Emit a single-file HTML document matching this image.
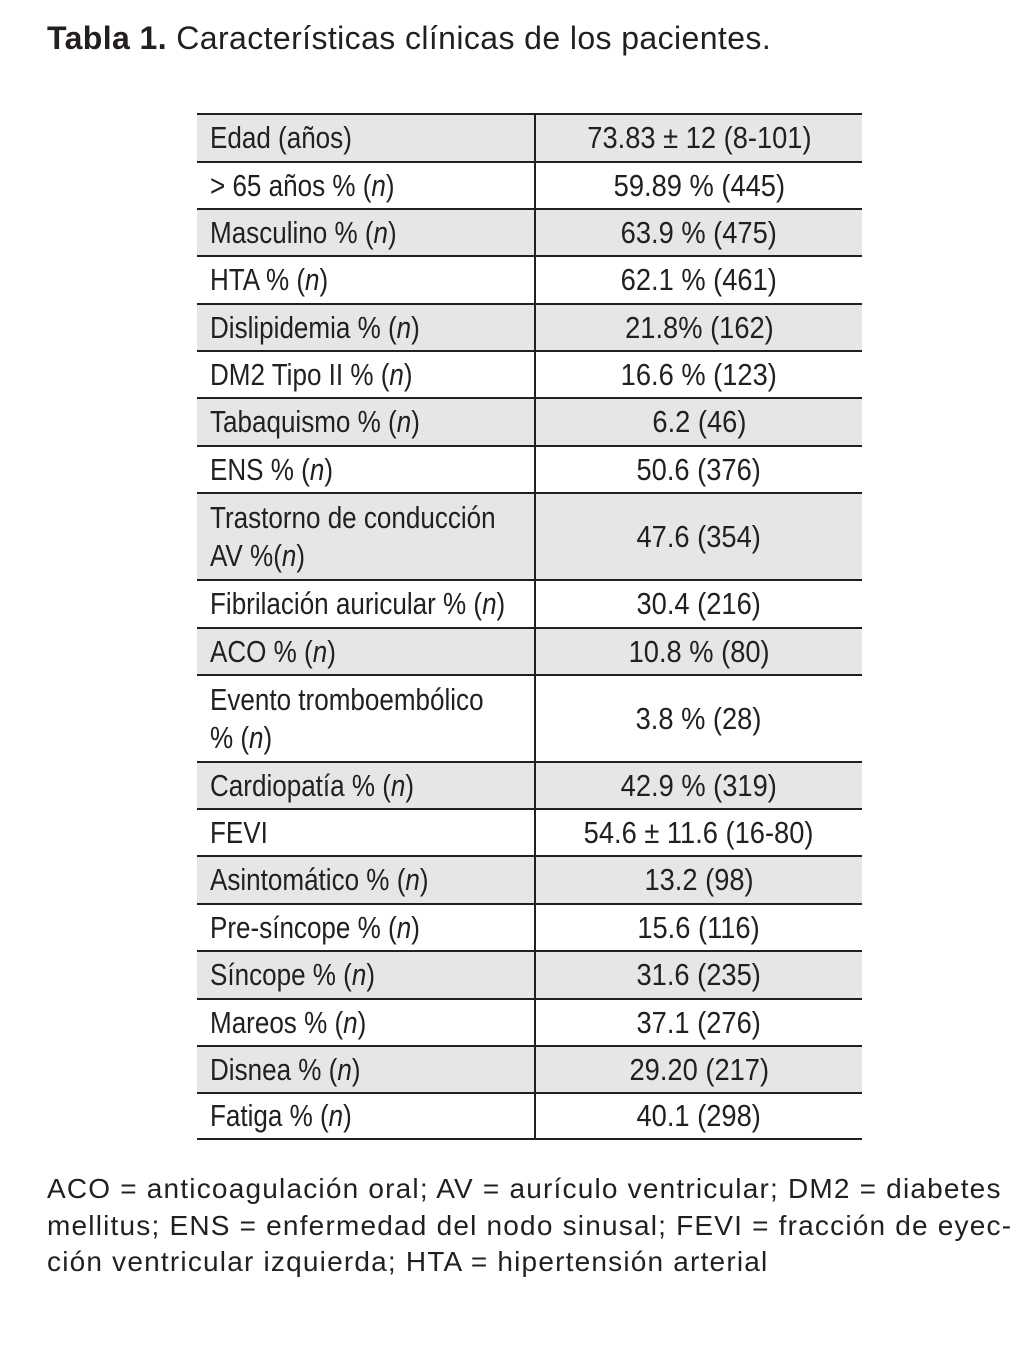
<!DOCTYPE html>
<html><head><meta charset="utf-8">
<style>
body{margin:0;width:1029px;height:1345px;background:#fff;position:relative;font-family:"Liberation Sans",sans-serif;color:#231f20;overflow:hidden}
#title{position:absolute;left:47px;top:20px;font-size:32px;white-space:nowrap;letter-spacing:0.4px}
#tbl{position:absolute;left:197px;top:113px;width:665px;height:1027px}
.row{position:absolute;left:0;width:665px;border-top:2px solid #231f20;box-sizing:border-box;font-size:31px}
.row.g{background:#e6e6e7}
.row .l{position:absolute;left:13px;top:0;bottom:0;display:flex;flex-direction:column;justify-content:center;white-space:nowrap;line-height:38px;transform:scaleX(0.84);transform-origin:left center}
.row .v{position:absolute;left:337px;right:0;top:0;bottom:0;display:flex;align-items:center;justify-content:center;white-space:nowrap;border-left:2px solid #231f20}
.row .v span{display:inline-block;transform:scaleX(0.88)}
#bottom{position:absolute;left:197px;top:1138px;width:665px;height:2px;background:#231f20}
.foot{position:absolute;left:47px;font-size:28px;white-space:nowrap;letter-spacing:1.2px}
</style></head><body>
<div id="title"><b>Tabla 1.</b> Características clínicas de los pacientes.</div>
<div id="tbl"></div>
<div id="bottom"></div>
<div class="foot" style="top:1173px">ACO = anticoagulación oral; AV = aurículo ventricular; DM2 = diabetes</div>
<div class="foot" style="top:1210px">mellitus; ENS = enfermedad del nodo sinusal; FEVI = fracción de eyec-</div>
<div class="foot" style="top:1246px">ción ventricular izquierda; HTA = hipertensión arterial</div>
<script>
const labels=["Edad (años)","&gt; 65 años % (<i>n</i>)","Masculino % (<i>n</i>)","HTA % (<i>n</i>)","Dislipidemia % (<i>n</i>)","DM2 Tipo II % (<i>n</i>)","Tabaquismo % (<i>n</i>)","ENS % (<i>n</i>)","Trastorno de conducción<br>AV %(<i>n</i>)","Fibrilación auricular % (<i>n</i>)","ACO % (<i>n</i>)","Evento tromboembólico<br>% (<i>n</i>)","Cardiopatía % (<i>n</i>)","FEVI","Asintomático % (<i>n</i>)","Pre-síncope % (<i>n</i>)","Síncope % (<i>n</i>)","Mareos % (<i>n</i>)","Disnea % (<i>n</i>)","Fatiga % (<i>n</i>)"];
const values=["73.83 ± 12 (8-101)","59.89 % (445)","63.9 % (475)","62.1 % (461)","21.8% (162)","16.6 % (123)","6.2 (46)","50.6 (376)","47.6 (354)","30.4 (216)","10.8 % (80)","3.8 % (28)","42.9 % (319)","54.6 ± 11.6 (16-80)","13.2 (98)","15.6 (116)","31.6 (235)","37.1 (276)","29.20 (217)","40.1 (298)"];
const tops=[0,48,95,142,190,237,284,332,379,466,514,561,648,695,742,790,837,885,932,979];
const tbl=document.getElementById('tbl');
labels.forEach((lb,i)=>{
  const r=document.createElement('div');
  
  
  r.className='row'+(i%2==0?' g':'');
  const next=i+1<tops.length?tops[i+1]:1025;
  r.style.top=tops[i]+'px';r.style.height=(next-tops[i])+'px';
  r.innerHTML='<div class="l">'+lb.split('<br>').map(s=>'<div>'+s+'</div>').join('')+'</div><div class="v"><span>'+values[i]+'</span></div>';
  tbl.appendChild(r);
});
</script>
</body></html>
